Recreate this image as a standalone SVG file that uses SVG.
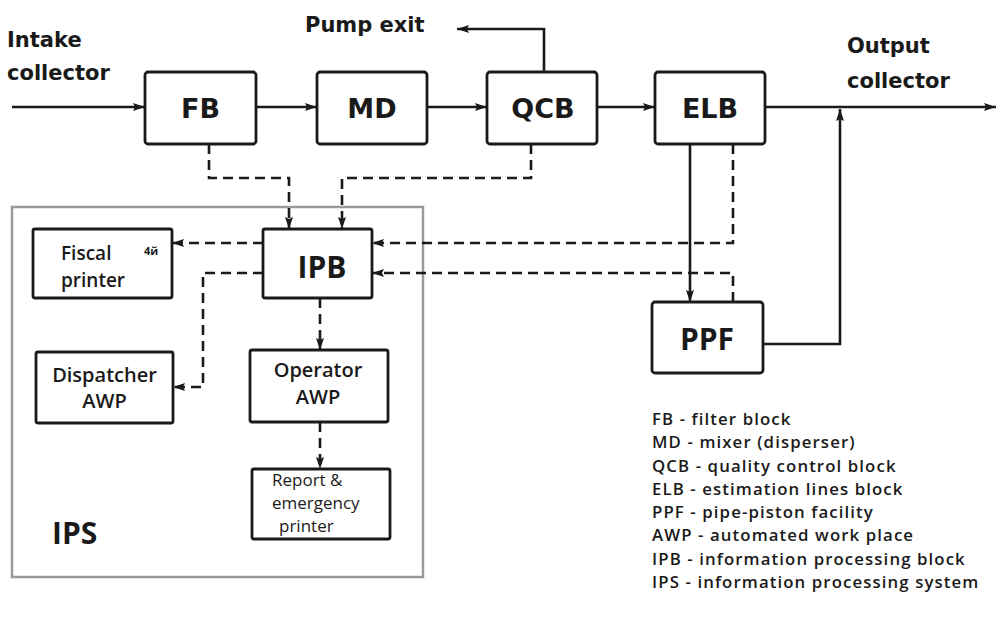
<svg xmlns="http://www.w3.org/2000/svg" width="996" height="618" viewBox="0 0 996 618">
  <defs>
    <marker id="arr" viewBox="0 0 12 10" refX="12" refY="5" markerWidth="12" markerHeight="10" markerUnits="userSpaceOnUse" orient="auto">
      <path d="M0,1 L12,5 L0,9 L2,5 Z" fill="#1a1a1a"/>
    </marker>
    <style>
      .box { fill: #fff; stroke: #1a1a1a; stroke-width: 2.8; }
      .frame { fill: none; stroke: #9a9a9a; stroke-width: 2.5; }
      .ln { fill: none; stroke: #1a1a1a; stroke-width: 2.6; }
      .dash { fill: none; stroke: #1a1a1a; stroke-width: 2.6; stroke-dasharray: 10 6; }
      .din { font-family: "DejaVu Sans", sans-serif; font-weight: bold; fill: #1a1a1a; }
      .lbl { font-size: 21px; }
      .blk { font-size: 27px; text-anchor: middle; }
      .cal { font-family: "Open Sans", "Liberation Sans", sans-serif; fill: #1a1a1a; }
      .big { font-size: 30px; font-weight: bold; text-anchor: middle; }
      .mid { font-size: 19px; font-weight: 600; }
      .sm { font-size: 17px; }
      .leg { font-size: 16.8px; font-weight: 600; letter-spacing: 1.1px; }
    </style>
  </defs>

  <!-- outer frame of the information processing system -->
  <rect id="IPS" class="frame" x="12" y="207" width="411" height="370"/>
  <text class="cal" x="52" y="544" style="font-size:30px;font-weight:bold">IPS</text>

  <!-- external labels -->
  <text class="din lbl" x="7" y="47">Intake</text>
  <text class="din lbl" x="7" y="80">collector</text>
  <text class="din lbl" x="305" y="32">Pump exit</text>
  <text class="din lbl" x="847" y="53">Output</text>
  <text class="din lbl" x="847" y="88">collector</text>

  <!-- connectors -->
  <g id="connectors">
    <path class="ln" d="M12,107 H145" marker-end="url(#arr)"/>
    <path class="ln" d="M256,107 H317" marker-end="url(#arr)"/>
    <path class="ln" d="M427,107 H487" marker-end="url(#arr)"/>
    <path class="ln" d="M597,107 H655" marker-end="url(#arr)"/>
    <path class="ln" d="M765,107 H996" marker-end="url(#arr)"/>
    <path class="ln" d="M544,72 V29 H457" marker-end="url(#arr)"/>
    <path class="ln" d="M763,344 H840 V109" marker-end="url(#arr)"/>
    <path class="ln" d="M690,144 V302" marker-end="url(#arr)"/>

    <path class="dash" d="M209,144 V178 H289 V229" marker-end="url(#arr)"/>
    <path class="dash" d="M531,144 V178 H342 V229" marker-end="url(#arr)"/>
    <path class="dash" d="M733,144 V243 H372" marker-end="url(#arr)"/>
    <path class="dash" d="M733,302 V273 H372" marker-end="url(#arr)"/>
    <path class="dash" d="M263,243 H172" marker-end="url(#arr)"/>
    <path class="dash" d="M263,273 H203 V387 H173" marker-end="url(#arr)"/>
    <path class="dash" d="M320,298 V350" marker-end="url(#arr)"/>
    <path class="dash" d="M320,422 V469" marker-end="url(#arr)"/>
  </g>

  <!-- process chain -->
  <g id="FB">
    <rect class="box" x="145" y="72" width="111" height="72" rx="3"/>
    <text class="din blk" x="200.5" y="118">FB</text>
  </g>
  <g id="MD">
    <rect class="box" x="317" y="72" width="110" height="72" rx="3"/>
    <text class="din blk" x="372" y="118">MD</text>
  </g>
  <g id="QCB">
    <rect class="box" x="487" y="72" width="110" height="72" rx="3"/>
    <text class="din blk" x="543" y="118">QCB</text>
  </g>
  <g id="ELB">
    <rect class="box" x="655" y="72" width="110" height="72" rx="3"/>
    <text class="din blk" x="710" y="118">ELB</text>
  </g>
  <g id="PPF">
    <rect class="box" x="652" y="302" width="111" height="71" rx="3"/>
    <text class="cal big" x="707" y="350">PPF</text>
  </g>

  <!-- information processing system -->
  <g id="IPB">
    <rect class="box" x="263" y="229" width="109" height="69" rx="2"/>
    <text class="cal big" x="322" y="278">IPB</text>
  </g>
  <g id="FiscalPrinter">
    <rect class="box" x="33" y="229" width="139" height="69" rx="2"/>
    <text class="cal mid" x="61" y="260">Fiscal</text>
    <text class="cal mid" x="61" y="287">printer</text>
    <text class="cal" x="144" y="255" style="font-size:11px;font-weight:bold">4й</text>
  </g>
  <g id="DispatcherAWP">
    <rect class="box" x="36" y="352" width="137" height="71" rx="2"/>
    <text class="cal mid" x="104.5" y="382" text-anchor="middle" style="font-size:20px">Dispatcher</text>
    <text class="cal mid" x="104.5" y="408" text-anchor="middle" style="font-size:20px">AWP</text>
  </g>
  <g id="OperatorAWP">
    <rect class="box" x="250" y="350" width="138" height="72" rx="2"/>
    <text class="cal mid" x="318" y="377" text-anchor="middle" style="font-size:20px">Operator</text>
    <text class="cal mid" x="318" y="404" text-anchor="middle" style="font-size:20px">AWP</text>
  </g>
  <g id="ReportPrinter">
    <rect class="box" x="252" y="469" width="138" height="70" rx="2"/>
    <text class="cal sm" x="272" y="486">Report &amp;</text>
    <text class="cal sm" x="272" y="509">emergency</text>
    <text class="cal sm" x="279" y="532">printer</text>
  </g>

  <!-- abbreviations -->
  <g id="legend" class="cal leg">
    <text x="652" y="425">FB - filter block</text>
    <text x="652" y="448">MD - mixer (disperser)</text>
    <text x="652" y="472">QCB - quality control block</text>
    <text x="652" y="495">ELB - estimation lines block</text>
    <text x="652" y="518">PPF - pipe-piston facility</text>
    <text x="652" y="541">AWP - automated work place</text>
    <text x="652" y="565">IPB - information processing block</text>
    <text x="652" y="588">IPS - information processing system</text>
  </g>
</svg>
